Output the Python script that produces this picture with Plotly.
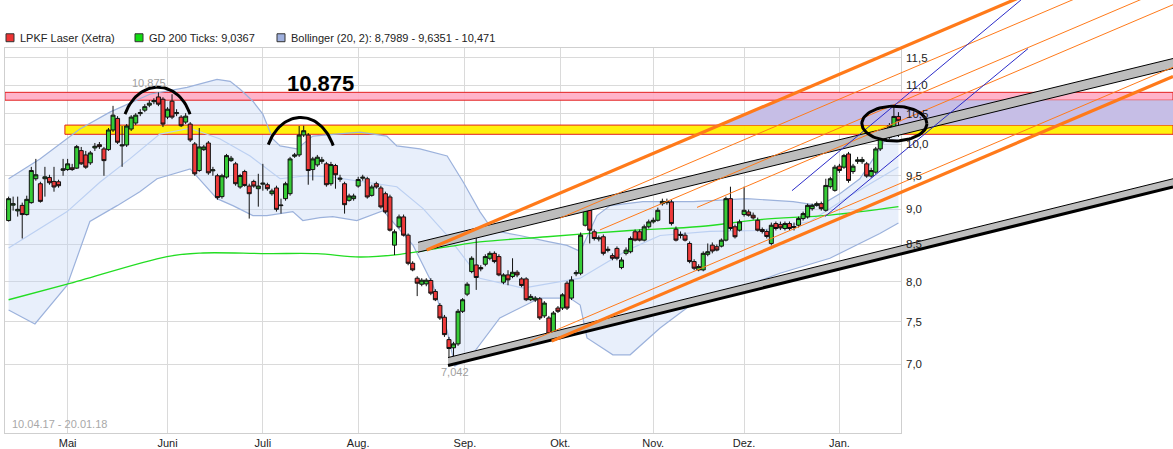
import math
import plotly.graph_objects as go

# ---------------- data (trading-day index, prices in EUR) ----------------
opens = [8.835,9.058,8.974,9.055,8.921,9.095,9.454,9.378,9.454,9.474,
         9.413,9.408,9.584,9.596,9.623,9.618,9.895,9.826,9.701,9.938,
         9.991,9.922,9.911,10.231,10.425,9.970,9.986,10.247,10.347,10.506,
         10.565,10.651,10.711,10.794,10.754,10.447,10.720,10.506,10.447,10.363,
         10.330,10.002,9.581,9.911,10.018,9.576,9.500,9.184,9.480,9.736,
         9.685,9.329,9.565,9.343,9.413,9.303,9.371,9.363,9.228,9.314,
         9.051,9.154,9.228,9.805,9.826,10.148,10.148,9.596,9.669,9.724,
         9.685,9.378,9.659,9.446,9.378,9.129,9.154,9.343,9.462,9.454,
         9.203,9.378,9.314,9.228,9.179,8.490,8.746,8.887,8.628,8.244,
         8.047,7.969,7.973,8.017,7.876,7.700,7.554,7.285,7.189,7.235,
         7.627,7.842,8.134,8.222,8.187,8.231,8.311,8.378,8.334,7.995,
         8.090,8.069,8.125,8.038,8.038,7.771,7.767,7.783,7.570,7.545,
         7.285,7.667,7.667,7.982,7.792,8.105,8.112,8.768,8.983,8.676,
         8.575,8.606,8.418,8.347,8.445,8.187,8.378,8.400,8.676,8.676,
         8.559,8.746,8.816,8.839,9.080,9.095,9.105,8.712,8.624,8.628,
         8.513,8.267,8.156,8.156,8.365,8.490,8.468,8.476,8.559,9.154,
         8.746,8.698,8.921,8.959,8.911,8.839,8.708,8.680,8.513,8.792,
         8.780,8.722,8.792,8.736,8.768,8.863,8.887,9.007,9.055,9.080,
         8.983,9.333,9.278,9.649,9.633,9.842,9.565,9.724,9.720,9.685,
         9.495,9.556,9.922,10.094,10.110,10.214,10.458]
highs = [9.184,9.184,9.184,9.095,9.198,9.638,9.763,9.408,9.638,9.515,
         9.638,9.439,9.763,9.763,9.685,9.986,9.954,9.890,9.890,10.018,
         10.034,9.954,10.264,10.639,10.463,10.297,10.330,10.480,10.514,10.582,
         10.668,10.737,10.771,10.875,10.789,10.616,10.841,10.582,10.480,10.514,
         10.363,10.034,10.264,9.986,10.051,9.638,9.530,9.530,9.842,9.810,
         9.716,9.530,9.592,9.378,9.439,9.530,9.685,9.393,9.303,9.348,
         9.154,9.408,9.795,9.858,10.297,10.302,10.181,9.795,9.826,9.795,
         9.716,9.716,9.685,9.515,9.408,9.228,9.228,9.484,9.515,9.484,
         9.363,9.408,9.348,9.258,9.213,8.708,8.921,8.921,8.652,8.271,
         8.073,8.047,8.047,8.047,7.905,7.729,7.582,7.317,7.259,7.655,
         7.792,7.995,8.338,8.722,8.218,8.365,8.405,8.405,8.365,8.112,
         8.152,8.311,8.152,8.060,8.060,7.842,7.817,7.804,7.754,7.570,
         7.630,7.692,7.854,8.008,8.073,8.152,8.666,9.110,9.007,8.708,
         8.624,8.638,8.472,8.378,8.472,8.324,8.459,8.610,8.708,8.708,
         8.778,8.849,8.877,9.022,9.154,9.154,9.139,8.750,8.680,8.666,
         8.541,8.298,8.231,8.405,8.513,8.527,8.499,8.582,9.184,9.333,
         8.778,8.849,9.333,8.993,8.950,8.877,8.736,8.708,8.806,8.821,
         8.820,8.821,8.821,8.806,8.892,8.964,9.080,9.080,9.110,9.110,
         9.454,9.484,9.669,9.685,9.842,9.874,9.685,9.795,9.795,9.716,
         9.623,9.954,10.181,10.181,10.347,10.634,10.531]
lows = [8.821,8.978,8.892,8.582,8.906,9.080,9.424,9.095,9.184,9.363,
        9.258,9.318,9.500,9.576,9.576,9.607,9.669,9.607,9.669,9.890,
        9.922,9.500,9.890,10.197,10.002,9.638,9.954,10.214,10.313,10.463,
        10.531,10.616,10.668,10.634,10.280,10.413,10.413,10.463,10.280,10.330,
        10.034,9.500,9.561,9.890,9.515,9.500,9.139,9.154,9.454,9.716,
        9.348,9.303,9.333,8.863,9.318,9.036,9.273,9.273,9.198,8.964,
        8.935,9.124,9.198,9.779,9.795,10.115,9.363,9.428,9.638,9.685,
        9.333,9.348,9.303,9.408,8.935,9.110,9.124,9.318,9.424,9.154,
        9.184,9.303,9.007,8.935,8.680,8.355,8.722,8.610,8.218,8.138,
        7.817,7.943,7.943,7.829,7.754,7.521,7.317,7.055,7.042,7.212,
        7.606,7.817,8.112,7.896,8.138,8.204,8.284,8.244,8.073,7.969,
        7.956,8.047,8.060,7.930,7.754,7.754,7.742,7.521,7.545,7.282,
        7.270,7.606,7.643,7.643,7.767,8.073,8.086,8.750,8.513,8.554,
        8.541,8.350,8.391,8.284,8.284,8.165,8.351,8.378,8.541,8.541,
        8.541,8.722,8.792,8.821,9.051,9.065,8.764,8.541,8.582,8.541,
        8.244,8.152,8.138,8.138,8.338,8.378,8.405,8.459,8.541,8.694,
        8.582,8.680,8.892,8.892,8.849,8.680,8.652,8.582,8.486,8.694,
        8.700,8.694,8.694,8.694,8.736,8.835,8.863,8.978,9.036,8.978,
        8.964,9.303,9.258,9.545,9.607,9.393,9.530,9.685,9.685,9.469,
        9.469,9.530,9.890,10.067,10.083,10.115,10.115]
closes = [9.154,9.080,8.997,8.921,9.144,9.581,9.515,9.114,9.484,9.393,
          9.329,9.348,9.607,9.685,9.596,9.959,9.685,9.633,9.858,9.965,
          9.959,9.736,10.231,10.480,10.030,9.986,10.297,10.447,10.480,10.523,
          10.625,10.685,10.728,10.668,10.330,10.582,10.447,10.523,10.302,10.463,
          10.067,9.530,9.954,9.954,9.545,9.591,9.169,9.500,9.815,9.774,
          9.378,9.504,9.352,9.228,9.343,9.343,9.386,9.303,9.269,8.997,
          9.058,9.378,9.763,9.826,10.148,10.219,9.581,9.763,9.790,9.748,
          9.363,9.674,9.515,9.462,9.065,9.194,9.194,9.443,9.477,9.179,
          9.329,9.329,9.032,8.959,8.698,8.676,8.887,8.628,8.244,8.156,
          7.982,8.021,8.021,7.854,7.771,7.545,7.344,7.181,7.235,7.627,
          7.771,7.969,8.311,8.056,8.169,8.334,8.378,8.267,8.090,8.090,
          8.025,8.125,8.090,7.953,7.771,7.813,7.792,7.545,7.729,7.305,
          7.606,7.627,7.833,7.667,8.025,8.118,8.628,8.983,8.698,8.582,
          8.589,8.378,8.432,8.311,8.311,8.288,8.422,8.582,8.559,8.559,
          8.746,8.816,8.839,8.983,9.114,9.110,8.792,8.559,8.638,8.559,
          8.267,8.178,8.200,8.378,8.400,8.409,8.422,8.559,9.154,8.722,
          8.606,8.816,8.983,8.911,8.873,8.698,8.680,8.610,8.768,8.722,
          8.730,8.792,8.722,8.750,8.863,8.935,9.055,9.055,9.080,9.007,
          9.352,9.454,9.633,9.581,9.815,9.428,9.649,9.748,9.752,9.495,
          9.581,9.922,10.137,10.137,10.302,10.458,10.385]
day_index = list(range(len(closes)))

month_pos = [13, 35, 56, 77, 100.5, 121.5, 142, 162, 183]
month_lbl = ["Mai", "Juni", "Juli", "Aug.", "Sep.", "Okt.", "Nov.", "Dez.", "Jan."]
ytick_vals = [7.0, 7.5, 8.0, 8.5, 9.0, 9.5, 10.0, 10.5, 11.0, 11.5]
ytick_lbl = ["7,0", "7,5", "8,0", "8,5", "9,0", "9,5", "10,0", "10,5", "11,0", "11,5"]

# GD 200
gd_x = [0, 12.9, 34.9, 42.2, 56.9, 67.9, 77.4, 86.2, 97.2, 103.8, 118.6, 136.9, 152.3, 165.5, 180.9, 196]
gd_y = [7.771, 7.969, 8.334, 8.382, 8.374, 8.374, 8.328, 8.365, 8.472, 8.534, 8.606, 8.694, 8.750, 8.849, 8.914, 9.037]

# Bollinger (20, 2)
bb_up_x = [0, 6.9, 15.7, 22.3, 31.1, 39.3, 45.9, 48.8, 51.0, 53.8, 56.0, 58.2, 59.8, 63.5, 67.0, 77.4,
           83.3, 85.5, 90.6, 96.6, 100.1, 103.8, 106.7, 112.6, 118.6, 123.0, 125.9, 129.6, 132.5, 139.7,
           150.8, 162.6, 172.8, 178.7, 183.1, 187.5, 191.9, 196]
bb_up_y = [9.454, 9.763, 10.247, 10.531, 10.841, 10.964, 11.106, 11.07, 10.929, 10.72, 10.497, 10.083,
           9.97, 9.922, 10.131, 10.197, 10.131, 9.970, 9.922, 9.810, 9.408, 8.964, 8.694, 8.624, 8.541,
           8.486, 8.405, 8.906, 9.051, 9.110, 9.110, 9.154, 9.110, 9.051, 9.228, 9.454, 9.922, 10.471]
bb_lo_x = [0, 5.8, 12.9, 17.9, 23.9, 28.9, 32.7, 40.0, 45.9, 49.4, 53.8, 56.9, 62.6, 64.8, 68.6, 71.4,
           76.7, 79.6, 82.5, 89.1, 93.5, 96.6, 98.3, 101.6, 108.2, 117.0, 123.6, 125.9, 127.4, 133.1,
           136.9, 143.5, 152.3, 161.1, 169.9, 180.9, 191.9, 196]
bb_lo_y = [7.643, 7.472, 7.956, 8.821, 9.051, 9.258, 9.454, 9.607, 9.154, 9.051, 8.906, 8.906, 8.964,
           8.835, 8.877, 8.892, 8.835, 8.906, 8.978, 8.486, 7.956, 7.388, 6.98, 7.074, 7.545, 7.792,
           7.792, 7.704, 7.305, 7.108, 7.108, 7.424, 7.792, 7.918, 8.112, 8.311, 8.652, 8.799]
bb_mid_x = [0, 12.9, 20.1, 26.7, 33.3, 40.0, 46.6, 53.2, 59.8, 65.7, 70.8, 78.1, 85.5, 91.3, 96.6,
            103.8, 113.3, 125.9, 136.2, 143.5, 154.5, 165.5, 176.5, 185.3, 196]
bb_mid_y = [8.45, 8.964, 9.40, 9.763, 10.164, 10.26, 10.083, 9.81, 9.454, 9.500, 9.484, 9.408, 9.333,
            9.007, 8.624, 8.047, 7.918, 8.047, 8.418, 8.624, 8.680, 8.694, 8.821, 9.198, 9.635]

# drawn annotations (index, price)
pink_band = [10.737, 10.875]
yellow_band = [10.160, 10.313]
yellow_start = 12.4
channel_a_top = [(90.18, 8.529), (256.48, 11.487)]
channel_a_bot = [(90.18, 8.393), (256.48, 11.304)]
channel_b_top = [(96.79, 7.076), (256.48, 9.454)]
channel_b_bot = [(96.79, 6.986), (256.48, 9.329)]
orange_thick = [[(92.09, 8.424), (256.48, 14.097)], [(119.63, 7.267), (256.48, 11.159)]]
orange_thin = [[(121.45, 8.869), (256.48, 13.54)], [(130.26, 8.702), (256.48, 12.923)],
               [(151.63, 9.025), (256.48, 12.534)], [(114.84, 7.266), (256.48, 11.326)]]
blue_lines = [[(172.55, 9.273), (222.99, 12.631)], [(179.82, 8.893), (224.54, 11.673)]]
arc1 = [(25.64, 10.497), (28.5, 11.126), (37.3, 11.126), (39.96, 10.497)]
arc2 = [(57.2, 9.991), (60.2, 10.599), (68.6, 10.599), (71.5, 9.975)]
ellipse = dict(cx=195.1, half_w=7.16, top=10.634, bottom=10.051)
label_high = (30.9, 11.04, "10,875")
label_low = (98.4, 6.91, "7,042")
big_text = (68.6, 11.034, "10.875")

# ---------------- layout geometry ----------------
W, H = 1173, 449
X_LEFT = -0.793
X_RIGHT = 196.564
X_FAR = 256.476
Y_LO = math.log10(6.262)
Y_HI = math.log10(11.691)
Y_TOP = 1.10139
D = 896 / 1168
YD = 388 / 436

FONT = "Liberation Sans, Arial, sans-serif"
fig = go.Figure()

# base subplot (grid / axes)
fig.add_trace(go.Scatter(x=[0], y=[9], mode="markers", marker=dict(opacity=0),
                         hoverinfo="skip", showlegend=False, xaxis="x", yaxis="y"))

# Bollinger fill
poly_x = bb_up_x + bb_lo_x[::-1]
poly_y = bb_up_y + bb_lo_y[::-1]
fig.add_trace(go.Scatter(x=poly_x, y=poly_y, fill="toself", fillcolor="rgba(190,212,245,0.36)",
                         line=dict(width=0), mode="lines", hoverinfo="skip", showlegend=False,
                         xaxis="x2", yaxis="y2"))


def band(lo, hi, x0, color):
    fig.add_trace(go.Scatter(x=[x0, X_FAR, X_FAR, x0, x0], y=[lo, lo, hi, hi, lo], fill="toself",
                             fillcolor=color, line=dict(color="#e32020", width=1), mode="lines",
                             hoverinfo="skip", showlegend=False, xaxis="x2", yaxis="y2"))


band(pink_band[0], pink_band[1], X_LEFT, "rgba(255,172,198,0.92)")
band(yellow_band[0], yellow_band[1], yellow_start, "rgba(255,240,0,0.95)")


# lavender area right of the upper thick orange line
def x_at(line, price):
    (xa, pa), (xb, pb) = line
    t = (math.log(price) - math.log(pa)) / (math.log(pb) - math.log(pa))
    return xa + t * (xb - xa)


o1 = orange_thick[0]
lav_x = [x_at(o1, pink_band[0]), X_FAR, X_FAR, x_at(o1, yellow_band[1])]
lav_y = [pink_band[0], pink_band[0], yellow_band[1], yellow_band[1]]
fig.add_trace(go.Scatter(x=lav_x, y=lav_y, fill="toself", fillcolor="rgb(198,190,230)",
                         line=dict(width=0), mode="lines", hoverinfo="skip", showlegend=False,
                         xaxis="x2", yaxis="y2"))

# Bollinger lines
for xs, ys, col in [(bb_up_x, bb_up_y, "#9cb2dc"), (bb_lo_x, bb_lo_y, "#9cb2dc"),
                    (bb_mid_x, bb_mid_y, "#bcd0f2")]:
    fig.add_trace(go.Scatter(x=xs, y=ys, mode="lines", line=dict(color=col, width=1.2),
                             hoverinfo="skip", showlegend=False, xaxis="x2", yaxis="y2"))

# GD 200
fig.add_trace(go.Scatter(x=gd_x, y=gd_y, mode="lines", line=dict(color="#22dd22", width=1.3),
                         line_shape="spline", hoverinfo="skip", showlegend=False,
                         xaxis="x2", yaxis="y2"))

# candles
fig.add_trace(go.Candlestick(x=day_index, open=opens, high=highs, low=lows, close=closes,
                             increasing=dict(fillcolor="#36cc36", line=dict(color="#111111", width=1)),
                             decreasing=dict(fillcolor="#ee3a3a", line=dict(color="#111111", width=1)),
                             whiskerwidth=0, hoverinfo="skip", showlegend=False,
                             xaxis="x3", yaxis="y3"))


def seg(points, color, width):
    fig.add_trace(go.Scatter(x=[p[0] for p in points], y=[p[1] for p in points], mode="lines",
                             line=dict(color=color, width=width), hoverinfo="skip",
                             showlegend=False, xaxis="x4", yaxis="y4"))


# grey channels
for top, bot, wt, wb in [(channel_a_top, channel_a_bot, 1, 1), (channel_b_top, channel_b_bot, 1, 3)]:
    fig.add_trace(go.Scatter(x=[top[0][0], top[1][0], bot[1][0], bot[0][0]],
                             y=[top[0][1], top[1][1], bot[1][1], bot[0][1]], fill="toself",
                             fillcolor="#bdbdbd", line=dict(width=0), mode="lines",
                             hoverinfo="skip", showlegend=False, xaxis="x4", yaxis="y4"))
    seg(top, "#000000", wt)
    seg(bot, "#000000", wb)

for ln in orange_thin:
    seg(ln, "#ff7a1a", 1)
for ln in orange_thick:
    seg(ln, "#ff7a1a", 3.2)
for ln in blue_lines:
    seg(ln, "#2b2bc8", 1)


# arcs (cubic Bezier through control points, in log-price space)
def bezier(ctrl, n=40):
    xs, ys = [], []
    lp = [(c[0], math.log10(c[1])) for c in ctrl]
    for k in range(n + 1):
        t = k / n
        b = [(1 - t) ** 3, 3 * (1 - t) ** 2 * t, 3 * (1 - t) * t ** 2, t ** 3]
        xs.append(sum(b[j] * lp[j][0] for j in range(4)))
        ys.append(10 ** sum(b[j] * lp[j][1] for j in range(4)))
    return xs, ys


for ctrl in (arc1, arc2):
    bx, by = bezier(ctrl)
    fig.add_trace(go.Scatter(x=bx, y=by, mode="lines", line=dict(color="#000", width=3),
                             hoverinfo="skip", showlegend=False, xaxis="x4", yaxis="y4"))

# ellipse
lc = (math.log10(ellipse["top"]) + math.log10(ellipse["bottom"])) / 2
lr = (math.log10(ellipse["top"]) - math.log10(ellipse["bottom"])) / 2
ex = [ellipse["cx"] + ellipse["half_w"] * math.cos(2 * math.pi * k / 80) for k in range(81)]
ey = [10 ** (lc + lr * math.sin(2 * math.pi * k / 80)) for k in range(81)]
fig.add_trace(go.Scatter(x=ex, y=ey, mode="lines", line=dict(color="#000", width=3),
                         hoverinfo="skip", showlegend=False, xaxis="x4", yaxis="y4"))

annotations = []
# y tick labels (kept on top of the drawings, as in the reference)
for v, t in zip(ytick_vals, ytick_lbl):
    annotations.append(dict(x=D + 3 / 1168, y=math.log10(v), xref="paper", yref="y", text=t,
                            xanchor="left", yanchor="middle", showarrow=False,
                            font=dict(family=FONT, size=11.5, color="#222")))
for (lx, ly, txt) in (label_high, label_low):
    annotations.append(dict(x=lx, y=math.log10(ly), xref="x4", yref="y4", text=txt, showarrow=False,
                            font=dict(family=FONT, size=11, color="#a0a0a0")))
annotations.append(dict(x=big_text[0], y=math.log10(big_text[1]), xref="x4", yref="y4",
                        text="<b>" + big_text[2] + "</b>", showarrow=False,
                        font=dict(family=FONT, size=22, color="#000")))
annotations.append(dict(x=(10 - 5) / 1168, y=(436 - 427) / 436, xref="paper", yref="paper",
                        xanchor="left", yanchor="middle", text="10.04.17 - 20.01.18", showarrow=False,
                        font=dict(family=FONT, size=11, color="#a8a8a8")))

legend_items = [("LPKF Laser (Xetra)", "#ee3333", 6),
                ("GD 200 Ticks: 9,0367", "#11dd11", 135),
                ("Bollinger (20, 2): 8,7989 - 9,6351 - 10,471", "#9fb0de", 277)]
shapes = []
for txt, col, px in legend_items:
    shapes.append(dict(type="rect", xref="paper", yref="paper",
                       x0=(px - 5) / 1168, x1=(px + 8 - 5) / 1168,
                       y0=(436 - 42) / 436, y1=(436 - 34) / 436,
                       fillcolor=col, line=dict(color="#333", width=1)))
    annotations.append(dict(x=(px + 12 - 5) / 1168, y=(436 - 38) / 436, xref="paper", yref="paper",
                            xanchor="left", yanchor="middle", text=txt, showarrow=False,
                            font=dict(family=FONT, size=11, color="#222")))

hidden = dict(visible=False, showgrid=False, zeroline=False, fixedrange=True)
fig.update_layout(
    width=W, height=H, margin=dict(l=5, r=0, t=0, b=13),
    paper_bgcolor="white", plot_bgcolor="rgba(0,0,0,0)",
    showlegend=False, hovermode=False, boxgap=0.12, boxgroupgap=0,
    font=dict(family=FONT, size=11, color="#222"),
    xaxis=dict(domain=[0, D], range=[X_LEFT, X_RIGHT], anchor="y", tickmode="array",
               tickvals=month_pos, ticktext=month_lbl, showgrid=True, gridcolor="#dadada",
               showline=True, linecolor="#cfcfcf", mirror=True, ticks="", zeroline=False,
               tickfont=dict(size=11, color="#222"), fixedrange=True),
    yaxis=dict(domain=[0, YD], type="log", range=[Y_LO, Y_HI], anchor="x", side="right",
               tickmode="array", tickvals=ytick_vals, ticktext=ytick_lbl, showgrid=True,
               gridcolor="#dadada", showline=True, linecolor="#cfcfcf", mirror=True, ticks="",
               showticklabels=False, zeroline=False, fixedrange=True),
    xaxis2=dict(domain=[0, 1], range=[X_LEFT, X_FAR], anchor="y2", **hidden),
    yaxis2=dict(domain=[0, YD], type="log", range=[Y_LO, Y_HI], anchor="x2", **hidden),
    xaxis3=dict(domain=[0, D], range=[X_LEFT, X_RIGHT], anchor="y3",
                rangeslider=dict(visible=False), **hidden),
    yaxis3=dict(domain=[0, YD], type="log", range=[Y_LO, Y_HI], anchor="x3", **hidden),
    xaxis4=dict(domain=[0, 1], range=[X_LEFT, X_FAR], anchor="y4", **hidden),
    yaxis4=dict(domain=[0, 1], type="log", range=[Y_LO, Y_TOP], anchor="x4", **hidden),
    annotations=annotations, shapes=shapes,
)

fig.write_html("out.html", config={"displayModeBar": False, "staticPlot": True},
               post_script="document.body.style.margin='0';document.body.style.overflow='hidden';")
